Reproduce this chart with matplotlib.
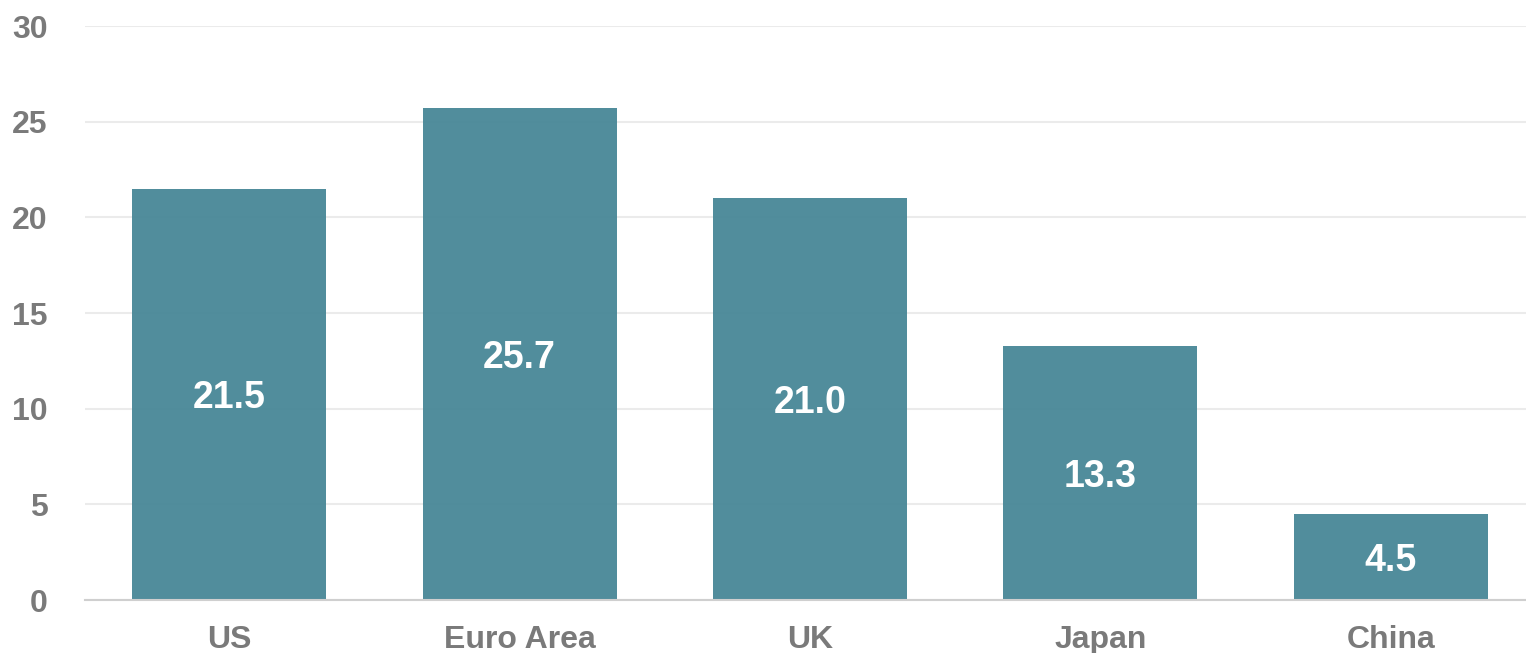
import matplotlib
matplotlib.use("Agg")
import matplotlib.pyplot as plt

categories = ["US", "Euro Area", "UK", "Japan", "China"]
values = [21.5, 25.7, 21.0, 13.3, 4.5]
yticks = [0, 5, 10, 15, 20, 25, 30]

plt.rcParams['font.family'] = ['Liberation Sans', 'DejaVu Sans']

fig = plt.figure(figsize=(15.26, 6.53), dpi=100)
ax = fig.add_axes([85 / 1526, 53 / 653, 1 - 85 / 1526, 574 / 653])

x = list(range(len(categories)))
bars = ax.bar(x, values, width=0.668, color='#4A8898', alpha=0.96, zorder=3)

for xi, v in zip(x, values):
    ax.text(xi, v / 2 - 0.2, f"{v:.1f}", ha='center', va='center', color='white',
            fontsize=27, fontweight='bold', zorder=4)

ax.set_xlim(-0.496, 4.465)
ax.set_ylim(0, 30)
ax.set_yticks(yticks)
ax.set_xticks(x)
ax.set_xticklabels(categories)

ax.grid(axis='y', color='#ebebeb', linewidth=1.5, zorder=0)
for s in ['top', 'right', 'left']:
    ax.spines[s].set_visible(False)
ax.spines['bottom'].set_color('#cfcfcf')
ax.spines['bottom'].set_linewidth(1.5)
ax.spines['bottom'].set_zorder(5)

ax.tick_params(axis='both', length=0, labelsize=23, labelcolor='#7a7a7a')
ax.tick_params(axis='y', pad=27)
ax.tick_params(axis='x', pad=18)
for lbl in ax.get_xticklabels() + ax.get_yticklabels():
    lbl.set_fontweight('bold')
for lbl in ax.get_yticklabels():
    lbl.set_horizontalalignment('right')

fig.savefig("out.png", dpi=100)
